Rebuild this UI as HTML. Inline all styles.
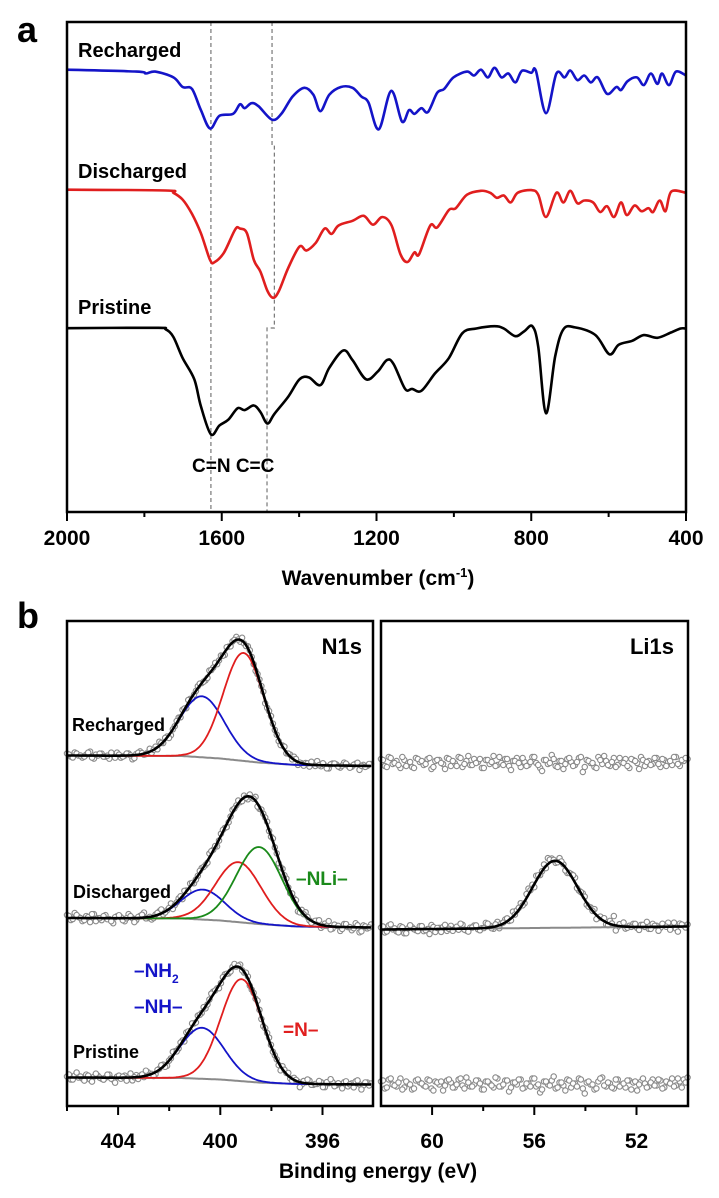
<!DOCTYPE html>
<html><head><meta charset="utf-8"><style>
html,body{margin:0;padding:0;background:#fff}
svg{display:block}
text{font-family:"Liberation Sans",Arial,sans-serif;font-weight:bold}
</style></head><body>
<svg id="fig" width="719" height="1198" viewBox="0 0 719 1198">
<g id="panelA"></g>
<g id="panelB"></g>
</svg>
<script>
// ---------- Panel a: FTIR data (wavenumber, transmittance a.u.) ----------
const rechWn=[2000,1820,1796,1772,1725,1701,1677,1654,1630,1606,1571,1553,1541,1523,1505,1470,1446,1417,1387,1363,1345,1322,1292,1262,1239,1221,1194,1162,1134,1116,1102,1084,1067,1043,1025,1001,966,948,930,912,895,877,859,841,824,800,788,762,735,714,699,681,663,646,628,604,580,568,551,527,509,491,474,462,444,426,400];
const rechVal=[1150,1145,1140,1145,1130,1105,1100,1045,997,1030,1035,1060,1050,1063,1055,1020,1035,1080,1103,1085,1042,1085,1105,1103,1080,1065,995,1095,1015,1045,1035,1050,1040,1090,1100,1130,1145,1135,1150,1130,1155,1130,1140,1117,1147,1142,1147,1037,1140,1130,1148,1123,1135,1117,1130,1087,1105,1097,1120,1130,1110,1140,1113,1140,1110,1145,1135];
const disWn=[2000,1745,1725,1701,1677,1654,1630,1618,1594,1565,1553,1535,1517,1500,1482,1467,1452,1428,1399,1381,1357,1334,1316,1298,1262,1233,1209,1185,1161,1138,1120,1102,1090,1061,1043,1013,995,966,930,906,889,871,853,835,800,782,762,735,717,699,681,663,640,622,604,586,568,553,533,515,497,485,468,453,438,400];
const disVal=[838,836,830,812,775,725,655,650,675,735,737,725,655,625,575,557,575,635,690,680,700,737,723,745,757,770,747,767,745,670,650,675,670,745,740,785,790,825,835,830,817,823,805,830,837,825,767,830,805,835,803,810,805,780,795,767,805,772,797,782,790,780,810,782,833,830];
const priWn=[2000,1770,1745,1725,1701,1671,1654,1628,1606,1583,1559,1541,1517,1500,1482,1464,1428,1399,1375,1345,1322,1286,1262,1227,1197,1173,1156,1126,1108,1084,1049,1013,978,942,895,871,841,818,797,782,762,738,717,687,634,598,574,539,509,474,438,414,400];
const priVal=[478,479,475,455,400,345,275,202,225,240,270,265,277,260,230,255,300,345,350,330,375,420,395,345,365,395,385,320,320,315,360,400,465,477,483,477,457,470,483,430,257,405,475,480,460,410,435,445,460,453,467,477,477];
const ftirTicks=[2000,1600,1200,800,400];
const ftirMinor=[1800,1400,1000,600];

// ---------- Panel b: XPS data ----------
// N1s peak components: [center eV, height a.u., FWHM eV]
const nRechBlue=[400.72,61,2.07], nRechRed=[399.09,108,1.88];
const nDisBlue=[400.68,30,2.0], nDisRed=[399.29,60,2.1], nDisGreen=[398.48,77,2.1];
const nPriBlue=[400.72,51,2.05], nPriRed=[399.17,102,1.9];
const liDisPeak=[55.19,67,2.07];
// backgrounds: eV / offset
const nBgE=[406,401.5,400,398.5,397,394];
const nRechBg=[0,-0.5,-3,-7,-9.5,-10.5];
const nDisBg=[0,-0.5,-2.5,-6,-8.5,-9.5];
const nPriBg=[0,-0.5,-2,-5,-6.5,-7];
const liBgE=[62,50];
const liDisBg=[0,3];
// residuals of measured points (a.u.)
const resNRech=[2,-1,3,0,-2,1,4,-3,0,2,-1,-3,1,3,-2,0,2,-4,1,3,-1,0,-2,2,4,-1,1,-3,0,2,3,-2,1,-1,2,0,-2,3,1,-1,2,-3,0,1,3,-2,-1,2,0,-3,1,2,-1,3,0,-2,1,-1,2,3,-3,0,1,-2,2,4,-1,0,-3,2,1,-2,3,0,-1,2,-4,1,0,2];
const resNDis=[3,-2,5,1,-3,2,-4,4,0,-2,3,-1,-5,2,1,-3,4,0,-2,2,5,-1,-3,1,3,-2,0,4,-1,2,-3,1,3,-2,0,2,-1,4,1,-3,2,0,-2,3,1,-1,2,-3,0,4,-2,1,3,-1,0,-4,2,3,-2,1,-5,2,4,-1,0,3,-3,2,5,-2,1,-4,3,0,-3,4,-5,2,-1,3];
const resNPri=[1,-2,2,0,-1,3,-2,1,2,-1,0,3,-2,1,-1,2,0,-3,2,1,-1,3,0,-2,1,2,-3,0,2,-1,1,3,-2,0,2,-1,-2,1,3,0,-1,2,-2,1,0,3,-1,2,-2,0,1,-3,2,1,0,-2,3,1,-1,2,0,-2,1,3,-1,0,2,-3,1,2,-1,0,2,-2,1,3,0,-1,2,1];
const resLiRech=[4,-3,6,-1,2,-5,3,0,-4,5,1,-2,4,-6,2,3,-1,5,-3,0,6,-4,2,-2,4,1,-5,3,-1,7,-2,0,4,-3,2,5,-4,1,-2,6,0,-5,3,-1,8,-3,2,-6,4,1,-2,5,-9,3,0,-4,6,-1,2,-3,5,-2,1,4,-5,3,0,6,-3,2,-1,5,-4,3,1,-2,6,-3,2,4];
const resLiDis=[2,-3,4,0,-2,3,-4,1,2,-1,3,-2,0,4,-3,1,2,-2,3,0,-1,4,-2,1,3,-1,0,5,2,-2,4,1,3,-1,5,2,4,-2,6,3,5,-1,4,6,3,-2,4,1,-3,2,5,-1,3,-2,1,4,-1,2,-2,3,9,-1,2,-2,1,3,-1,2,0,-2,3,1,-1,2,4,0,-2,3,1,2];
const resLiPri=[3,-4,5,0,-2,6,-3,1,-5,4,2,-1,5,-4,3,0,-6,4,2,-3,5,-1,7,-2,0,4,-5,3,1,-3,6,-2,4,-7,2,0,5,-3,1,6,-2,-8,3,0,4,-4,2,-1,5,-3,1,6,-4,2,0,-5,3,7,-2,1,-4,5,0,-3,4,2,-6,3,1,-2,5,-1,4,-3,2,6,-1,3,5,7];
const nTicks=[404,400,396], nMinor=[406,402,398];
const liTicks=[60,56,52], liMinor=[58,54];

// ---------- helpers ----------
const NS='http://www.w3.org/2000/svg';
function mk(tag,attrs,parent){const e=document.createElementNS(NS,tag);for(const k in attrs)e.setAttribute(k,attrs[k]);parent.appendChild(e);return e;}
function smooth(pts){let d='M'+pts[0][0].toFixed(1)+','+pts[0][1].toFixed(1);
 for(let i=0;i<pts.length-1;i++){const p0=pts[i-1]||pts[i],p1=pts[i],p2=pts[i+1],p3=pts[i+2]||p2;
  const c1=[p1[0]+(p2[0]-p0[0])/6,p1[1]+(p2[1]-p0[1])/6],c2=[p2[0]-(p3[0]-p1[0])/6,p2[1]-(p3[1]-p1[1])/6];
  d+='C'+c1[0].toFixed(1)+','+c1[1].toFixed(1)+' '+c2[0].toFixed(1)+','+c2[1].toFixed(1)+' '+p2[0].toFixed(1)+','+p2[1].toFixed(1);}
 return d;}
function interp(xs,ys,x){for(let i=0;i<xs.length-1;i++){if((x<=xs[i]&&x>=xs[i+1])){const t=(xs[i]-x)/(xs[i]-xs[i+1]);return ys[i]+t*(ys[i+1]-ys[i]);}}return ys[ys.length-1];}
function gauss(p,e){const s=p[2]/2.3548;return p[1]*Math.exp(-0.5*Math.pow((e-p[0])/s,2));}

// ---------- Panel a ----------
const A=document.getElementById('panelA');
const xA=w=>67+(2000-w)*(619/1600);
const yA=v=>512-v/2.6;
function ftir(wn,val,color,name){
 const p=mk('path',{d:smooth(wn.map((w,i)=>[xA(w),yA(val[i])])),fill:'none',stroke:color,'stroke-width':2.6,'stroke-linejoin':'round'},A);
 
 
}
let g1=mk('path',{d:`M${xA(1628)},22V512`,stroke:'#777','stroke-width':1.2,'stroke-dasharray':'4,3',fill:'none'},A);


let g2=mk('path',{d:`M${xA(1470)},22V145H${xA(1464)}V328H${xA(1483)}V512`,stroke:'#777','stroke-width':1.2,'stroke-dasharray':'4,3',fill:'none'},A);


ftir(rechWn,rechVal,'#1414c8','recharged-ftir-line');
ftir(disWn,disVal,'#e01e1e','discharged-ftir-line');
ftir(priWn,priVal,'#000','pristine-ftir-line');
let fa=mk('rect',{x:67,y:22,width:619,height:490,fill:'none',stroke:'#000','stroke-width':2.5},A);


ftirTicks.forEach(t=>{const l=mk('line',{x1:xA(t),x2:xA(t),y1:512,y2:521,stroke:'#000','stroke-width':2},A);
 
 
 const tx=mk('text',{x:xA(t),y:545,'font-size':21,'text-anchor':'middle'},A);tx.textContent=t;
 
 });
ftirMinor.forEach(t=>{const l=mk('line',{x1:xA(t),x2:xA(t),y1:512,y2:517,stroke:'#000','stroke-width':2},A);
 
 });

// ---------- Panel b ----------
const B=document.getElementById('panelB');
const xN=e=>67+(406-e)*25.55;
const xL=e=>381+(62-e)*25.55;
function path(pts,color,w,name){const p=mk('path',{d:'M'+pts.map(q=>q[0].toFixed(1)+','+q[1].toFixed(1)).join('L'),fill:'none',stroke:color,'stroke-width':w,'stroke-linejoin':'round'},B);
 
 }
function spectrum(xf,e0,e1,baseY,bgE,bgV,comps,colors,resA,resB,name,drawLines){
 const grid=[];for(let e=e0;e>=e1-1e-6;e-=0.05)grid.push(e);
 const bg=e=>bgE?interp(bgE,bgV,e):0;
 const model=e=>{let v=bg(e);comps.forEach(c=>v+=gauss(c,e));return v;};
 const step=(e0-e1)/(resA.length-1);
 const pts=[];
 resA.forEach((r,i)=>pts.push([e0-i*step,r]));
 resB.forEach((r,i)=>{const e=e0-(i+0.5)*step;if(e>=e1)pts.push([e,r]);});
 pts.forEach(([e,r])=>{
  const c=mk('circle',{cx:xf(e),cy:baseY-model(e)-r,r:2.7,fill:'#fff',stroke:'#8a8a8a','stroke-width':1.1},B);
  
  });
 if(!drawLines)return;
 path(grid.map(e=>[xf(e),baseY-bg(e)]),'#8a8a8a',2,name+'-background');
 comps.forEach((c,k)=>{if(colors[k])path(grid.map(e=>[xf(e),baseY-bg(e)-gauss(c,e)]),colors[k],1.8,name+'-component-'+k);});
 path(grid.map(e=>[xf(e),baseY-model(e)]),'#000',2.6,name+'-fit');
}
spectrum(xN,406,394.1,755.5,nBgE,nRechBg,[nRechBlue,nRechRed],['#1414c8','#e01e1e'],resNRech,resNPri,'n1s-recharged',true);
spectrum(xN,406,394.1,918,nBgE,nDisBg,[nDisBlue,nDisRed,nDisGreen],['#1414c8','#e01e1e','#1a8a1a'],resNDis,resNRech,'n1s-discharged',true);
spectrum(xN,406,394.1,1077.5,nBgE,nPriBg,[nPriBlue,nPriRed],['#1414c8','#e01e1e'],resNPri,resNDis,'n1s-pristine',true);
spectrum(xL,62,50,763,null,null,[],[],resLiRech,resLiPri,'li1s-recharged',false);
spectrum(xL,62,50,929.5,liBgE,liDisBg,[liDisPeak],[null],resLiDis,resNDis,'li1s-discharged',true);
spectrum(xL,62,50,1084.5,null,null,[],[],resLiPri,resLiRech,'li1s-pristine',false);

let f1=mk('rect',{x:67,y:621,width:306,height:485,fill:'none',stroke:'#000','stroke-width':2.5},B);


let f2=mk('rect',{x:381,y:621,width:307,height:485,fill:'none',stroke:'#000','stroke-width':2.5},B);


function ticks(xf,maj,min){maj.forEach(t=>{const l=mk('line',{x1:xf(t),x2:xf(t),y1:1106,y2:1115,stroke:'#000','stroke-width':2},B);
 
 
 const tx=mk('text',{x:xf(t),y:1148,'font-size':21,'text-anchor':'middle'},B);tx.textContent=t;
 
 });
 min.forEach(t=>{const l=mk('line',{x1:xf(t),x2:xf(t),y1:1106,y2:1111,stroke:'#000','stroke-width':2},B);
 
 });}
ticks(xN,nTicks,nMinor);ticks(xL,liTicks,liMinor);
</script>
<div style="position:absolute;left:0;top:0;width:719px;height:1198px;pointer-events:none">
<svg width="719" height="1198" style="position:absolute;left:0;top:0">
<text x="17" y="42" font-size="36">a</text>
<text x="78" y="57" font-size="20">Recharged</text>
<text x="78" y="178" font-size="20">Discharged</text>
<text x="78" y="314" font-size="20">Pristine</text>
<text x="192" y="472" font-size="19">C=N C=C</text>
<text x="378" y="585" font-size="21" text-anchor="middle">Wavenumber (cm<tspan dy="-8" font-size="13">-1</tspan><tspan dy="8">)</tspan></text>
<text x="17" y="628" font-size="36">b</text>
<text x="362" y="654" font-size="22" text-anchor="end">N1s</text>
<text x="674" y="654" font-size="22" text-anchor="end">Li1s</text>
<text x="72" y="731" font-size="18">Recharged</text>
<text x="73" y="898" font-size="18">Discharged</text>
<text x="73" y="1058" font-size="18">Pristine</text>
<text x="296" y="885" font-size="19" fill="#1a8a1a">–NLi–</text>
<text x="134" y="977" font-size="19" fill="#1414c8">–NH<tspan dy="6" font-size="12">2</tspan></text>
<text x="134" y="1013" font-size="19" fill="#1414c8">–NH–</text>
<text x="283" y="1036" font-size="19" fill="#e01e1e">=N–</text>
<text x="378" y="1178" font-size="21" text-anchor="middle">Binding energy (eV)</text>
</svg></div>
</body></html>
